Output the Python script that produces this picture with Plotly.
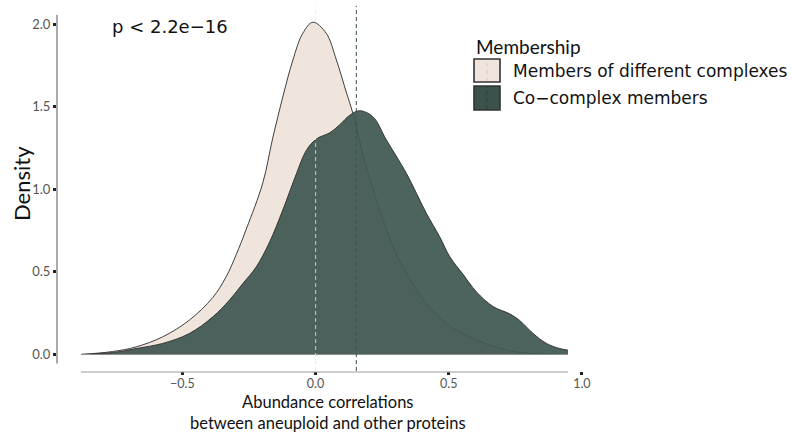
import plotly.graph_objects as go

# Kernel density estimates of abundance correlations, per membership group
diff_x = [-0.881, -0.762, -0.674, -0.574, -0.474, -0.386, -0.336, -0.298, -0.260,
          -0.198, -0.161, -0.123, -0.085, -0.048, -0.010, 0.040, 0.078, 0.115,
          0.140, 0.190, 0.241, 0.291, 0.341, 0.416, 0.491, 0.541, 0.579, 0.654,
          0.729, 0.805, 0.880, 0.947]
diff_y = [0.0, 0.018, 0.046, 0.107, 0.208, 0.345, 0.470, 0.605, 0.760,
          1.040, 1.310, 1.560, 1.784, 1.945, 2.012, 1.945, 1.784, 1.590,
          1.461, 1.137, 0.875, 0.652, 0.491, 0.309, 0.188, 0.137, 0.107, 0.056,
          0.022, 0.006, 0.002, 0.0]

co_x = [-0.881, -0.762, -0.674, -0.574, -0.474, -0.386, -0.323, -0.273, -0.223,
        -0.173, -0.123, -0.073, -0.035, 0.003, 0.053, 0.090, 0.128, 0.165,
        0.215, 0.266, 0.341, 0.416, 0.466, 0.504, 0.553, 0.604, 0.667, 0.729,
        0.767, 0.817, 0.867, 0.917, 0.948]
co_y = [0.0, 0.012, 0.036, 0.067, 0.127, 0.228, 0.330, 0.430, 0.530,
        0.680, 0.875, 1.090, 1.235, 1.305, 1.342, 1.390, 1.448, 1.476,
        1.440, 1.299, 1.097, 0.855, 0.713, 0.592, 0.487, 0.379, 0.290, 0.246,
        0.205, 0.127, 0.067, 0.036, 0.026]

# Group means drawn as dashed reference lines
group_names = ["Members of different complexes", "Co\u2212complex members"]
group_means = [0.0, 0.153]

x_ticks = [-0.5, 0.0, 0.5, 1.0]
y_ticks = [0.0, 0.5, 1.0, 1.5, 2.0]
p_label = "p < 2.2e\u221216"
x_title = "Abundance correlations<br>between aneuploid and other proteins"

BEIGE = "#EFE5DC"
GREEN = "rgba(64,87,81,0.93)"
GREEN_SOLID = "#3B514B"
OUTLINE = "#2a2a2a"
TITLE_FONT = "Lato"
TEXT_FONT = "DejaVu Sans"

W, H = 792, 432
M_L, M_R, M_T, M_B = 57, 200, 6, 61
PW, PH = W - M_L - M_R, H - M_T - M_B


def px(xp):
    return (xp - M_L) / PW


def py(yp):
    return (H - M_B - yp) / PH


fig = go.Figure()

for xs, ys, fillc in [(diff_x, diff_y, BEIGE), (co_x, co_y, GREEN)]:
    fig.add_trace(go.Scatter(
        x=xs, y=ys, mode="lines", fill="tozeroy", fillcolor=fillc,
        line=dict(color=OUTLINE, width=0.9, shape="spline", smoothing=1.0),
        showlegend=False, hoverinfo="skip"))
    # bottom edge of the density outline
    fig.add_trace(go.Scatter(
        x=[xs[0], xs[-1]], y=[0, 0], mode="lines",
        line=dict(color="#8a8f8c", width=1), showlegend=False, hoverinfo="skip"))

shapes = []
# mean lines
shapes.append(dict(type="line", xref="x", yref="paper", x0=group_means[0], x1=group_means[0],
                   y0=0, y1=1, line=dict(color="rgba(239,229,220,0.65)", width=1.2, dash="4px,3px"),
                   layer="above"))
shapes.append(dict(type="line", xref="x", yref="paper", x0=group_means[1], x1=group_means[1],
                   y0=0, y1=1, line=dict(color=GREEN_SOLID, width=1, dash="4px,3px"),
                   layer="above"))
# capped axis lines
shapes.append(dict(type="line", xref="paper", yref="y", x0=0, x1=0, y0=-0.055, y1=2.056,
                   line=dict(color="#555555", width=1)))
shapes.append(dict(type="line", xref="x", yref="paper", x0=min(diff_x + co_x), x1=max(diff_x + co_x),
                   y0=py(372), y1=py(372), line=dict(color="#9a9a9a", width=1)))

# legend keys
key_boxes = [(59, 82), (86, 110)]
key_fill = [BEIGE, GREEN_SOLID]
key_dash = ["#e3c9c0", "#2e403b"]
annotations = []
for (y0, y1), fc, dc, name in zip(key_boxes, key_fill, key_dash, group_names):
    shapes.append(dict(type="rect", xref="paper", yref="paper", x0=px(474), x1=px(500),
                       y0=py(y1), y1=py(y0), fillcolor=fc, line=dict(color="#333333", width=1.6)))
    shapes.append(dict(type="line", xref="paper", yref="paper", x0=px(487), x1=px(487),
                       y0=py(y1 - 1), y1=py(y0 + 1), line=dict(color=dc, width=1, dash="4px,3px")))
    annotations.append(dict(text=name, xref="paper", yref="paper", x=px(511), y=py((y0 + y1) / 2),
                            xanchor="left", yanchor="middle", showarrow=False,
                            font=dict(family=TEXT_FONT, size=17, color="#111111")))

annotations.append(dict(text="Membership", xref="paper", yref="paper", x=px(474), y=py(46),
                        xanchor="left", yanchor="middle", showarrow=False,
                        font=dict(family=TITLE_FONT, size=19, color="#111111")))
annotations.append(dict(text=p_label, xref="paper", yref="paper", x=px(110), y=py(27),
                        xanchor="left", yanchor="middle", showarrow=False,
                        font=dict(family=TEXT_FONT, size=18, color="#111111")))
annotations.append(dict(text=x_title, xref="paper", yref="paper", x=px(328), y=py(434),
                        xanchor="center", yanchor="bottom", showarrow=False, borderpad=0,
                        font=dict(family=TITLE_FONT, size=16.5, color="#111111")))
annotations.append(dict(text="Density", xref="paper", yref="paper", x=px(21), y=py(184),
                        xanchor="center", yanchor="middle", showarrow=False, textangle=-90,
                        font=dict(family=TITLE_FONT, size=22, color="#111111")))

fig.update_layout(
    width=W, height=H, margin=dict(l=M_L, r=M_R, t=M_T, b=M_B),
    paper_bgcolor="white", plot_bgcolor="white",
    shapes=shapes, annotations=annotations, showlegend=False,
    xaxis=dict(range=[-0.971, 1.038], tickvals=x_ticks, tickformat=".1f",
               showgrid=False, zeroline=False, showline=False,
               ticks="outside", ticklen=3, tickwidth=3, tickcolor="#222222",
               ticklabelstandoff=-2,
               tickfont=dict(family=TITLE_FONT, size=12.5, color="#555555")),
    yaxis=dict(range=[-0.1, 2.11], tickvals=y_ticks, tickformat=".1f",
               showgrid=False, zeroline=False, showline=False,
               ticks="outside", ticklen=3, tickwidth=3, tickcolor="#222222",
               tickfont=dict(family=TITLE_FONT, size=13, color="#555555")),
)

fig.write_html("out.html")
